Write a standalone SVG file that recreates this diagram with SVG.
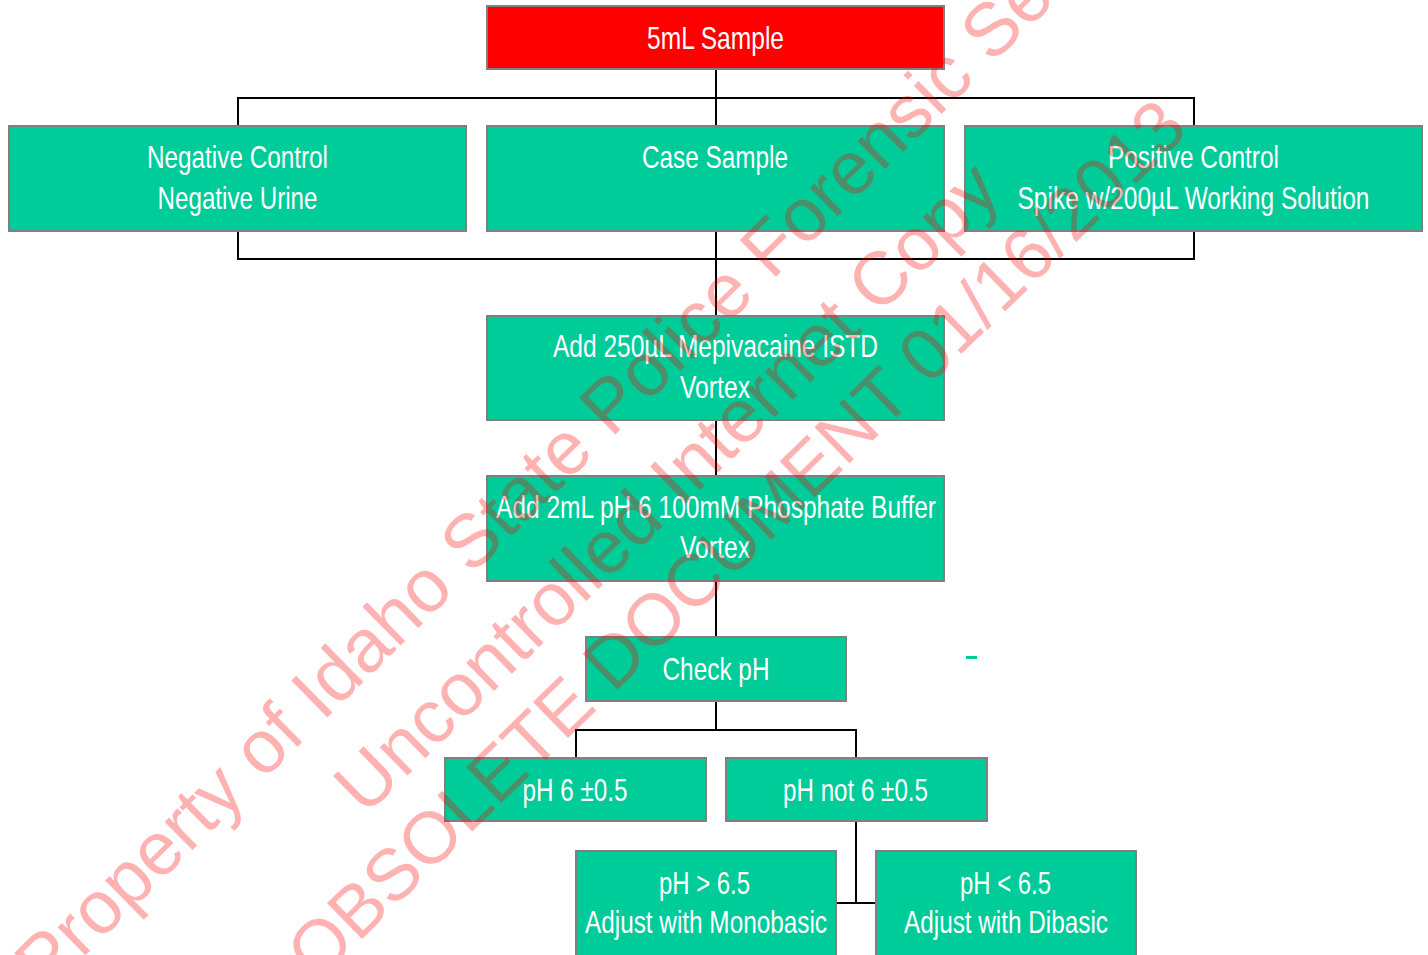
<svg xmlns="http://www.w3.org/2000/svg" width="1428" height="955" viewBox="0 0 1428 955">
<style>
.box{fill:#00CC99;stroke:#808080;stroke-width:2}
.red{fill:#FF0000;stroke:#808080;stroke-width:2}
.t{font-family:"Liberation Sans",Arial,sans-serif;font-size:32px;fill:#FFFFFF;text-anchor:middle}
.c{fill:none;stroke:#000000;stroke-width:2}
.wm{font-family:"Liberation Sans",Arial,sans-serif;font-size:73px;fill:#FF0000;fill-opacity:0.3}
</style>
<rect width="1428" height="955" fill="#FFFFFF"/>
<g id="connectors">
<path class="c" d="M716,70 V126"/>
<path class="c" d="M238,126 V98 H1194 V126"/>
<path class="c" d="M238,231 V259 H1194 V231"/>
<path class="c" d="M716,231 V316"/>
<path class="c" d="M716,420 V476"/>
<path class="c" d="M716,581 V637"/>
<path class="c" d="M716,701 V730"/>
<path class="c" d="M576,758 V730 H856 V758"/>
<path class="c" d="M856,821 V903"/>
<path class="c" d="M836,903 H876"/>
</g>
<g id="n-sample">
<rect class="red" x="487" y="6" width="457" height="63"/>
<text class="t" x="715.5" y="49" textLength="137" lengthAdjust="spacingAndGlyphs">5mL Sample</text>
</g>
<g id="n-negative">
<rect class="box" x="9" y="126" width="457" height="105"/>
<text class="t" x="237.5" y="168" textLength="181" lengthAdjust="spacingAndGlyphs">Negative Control</text>
<text class="t" x="237.5" y="209" textLength="160" lengthAdjust="spacingAndGlyphs">Negative Urine</text>
</g>
<g id="n-case">
<rect class="box" x="487" y="126" width="457" height="105"/>
<text class="t" x="715" y="168" textLength="146" lengthAdjust="spacingAndGlyphs">Case Sample</text>
</g>
<g id="n-positive">
<rect class="box" x="965" y="126" width="457" height="105"/>
<text class="t" x="1193.5" y="168" textLength="171" lengthAdjust="spacingAndGlyphs">Positive Control</text>
<text class="t" x="1193.5" y="209" textLength="352" lengthAdjust="spacingAndGlyphs">Spike w/200µL Working Solution</text>
</g>
<g id="n-istd">
<rect class="box" x="487" y="316" width="457" height="104"/>
<text class="t" x="715.5" y="357" textLength="325" lengthAdjust="spacingAndGlyphs">Add 250µL Mepivacaine ISTD</text>
<text class="t" x="715" y="398" textLength="70" lengthAdjust="spacingAndGlyphs">Vortex</text>
</g>
<g id="n-buffer">
<rect class="box" x="487" y="476" width="457" height="105"/>
<text class="t" x="716" y="518" textLength="440" lengthAdjust="spacingAndGlyphs">Add 2mL pH 6 100mM Phosphate Buffer</text>
<text class="t" x="715" y="558" textLength="70" lengthAdjust="spacingAndGlyphs">Vortex</text>
</g>
<g id="n-check">
<rect class="box" x="586" y="637" width="260" height="64"/>
<text class="t" x="716" y="680" textLength="107" lengthAdjust="spacingAndGlyphs">Check pH</text>
</g>
<g id="n-ph6">
<rect class="box" x="445" y="758" width="261" height="63"/>
<text class="t" x="575" y="801" textLength="105" lengthAdjust="spacingAndGlyphs">pH 6 ±0.5</text>
</g>
<g id="n-phnot6">
<rect class="box" x="726" y="758" width="261" height="63"/>
<text class="t" x="855.5" y="801" textLength="145" lengthAdjust="spacingAndGlyphs">pH not 6 ±0.5</text>
</g>
<g id="n-high">
<rect class="box" x="576" y="851" width="260" height="120"/>
<text class="t" x="704.5" y="894" textLength="91" lengthAdjust="spacingAndGlyphs">pH &gt; 6.5</text>
<text class="t" x="706" y="933" textLength="242" lengthAdjust="spacingAndGlyphs">Adjust with Monobasic</text>
</g>
<g id="n-low">
<rect class="box" x="876" y="851" width="260" height="120"/>
<text class="t" x="1005.5" y="894" textLength="91" lengthAdjust="spacingAndGlyphs">pH &lt; 6.5</text>
<text class="t" x="1006" y="933" textLength="204" lengthAdjust="spacingAndGlyphs">Adjust with Dibasic</text>
</g>
<rect x="966" y="656" width="11" height="3" fill="#00CC99"/>
<g id="watermark">
<text class="wm" font-size="75" transform="translate(46,994) rotate(-44.5)" style="font-size:75px">Property of Idaho State Police Forensic Se</text>
<text class="wm" transform="translate(365,817) rotate(-44.3)" style="font-size:75px">Uncontrolled Internet Copy</text>
<text class="wm" transform="translate(317,983) rotate(-44.3)">OBSOLETE DOCUMENT 01/16/2013</text>
</g>
</svg>
